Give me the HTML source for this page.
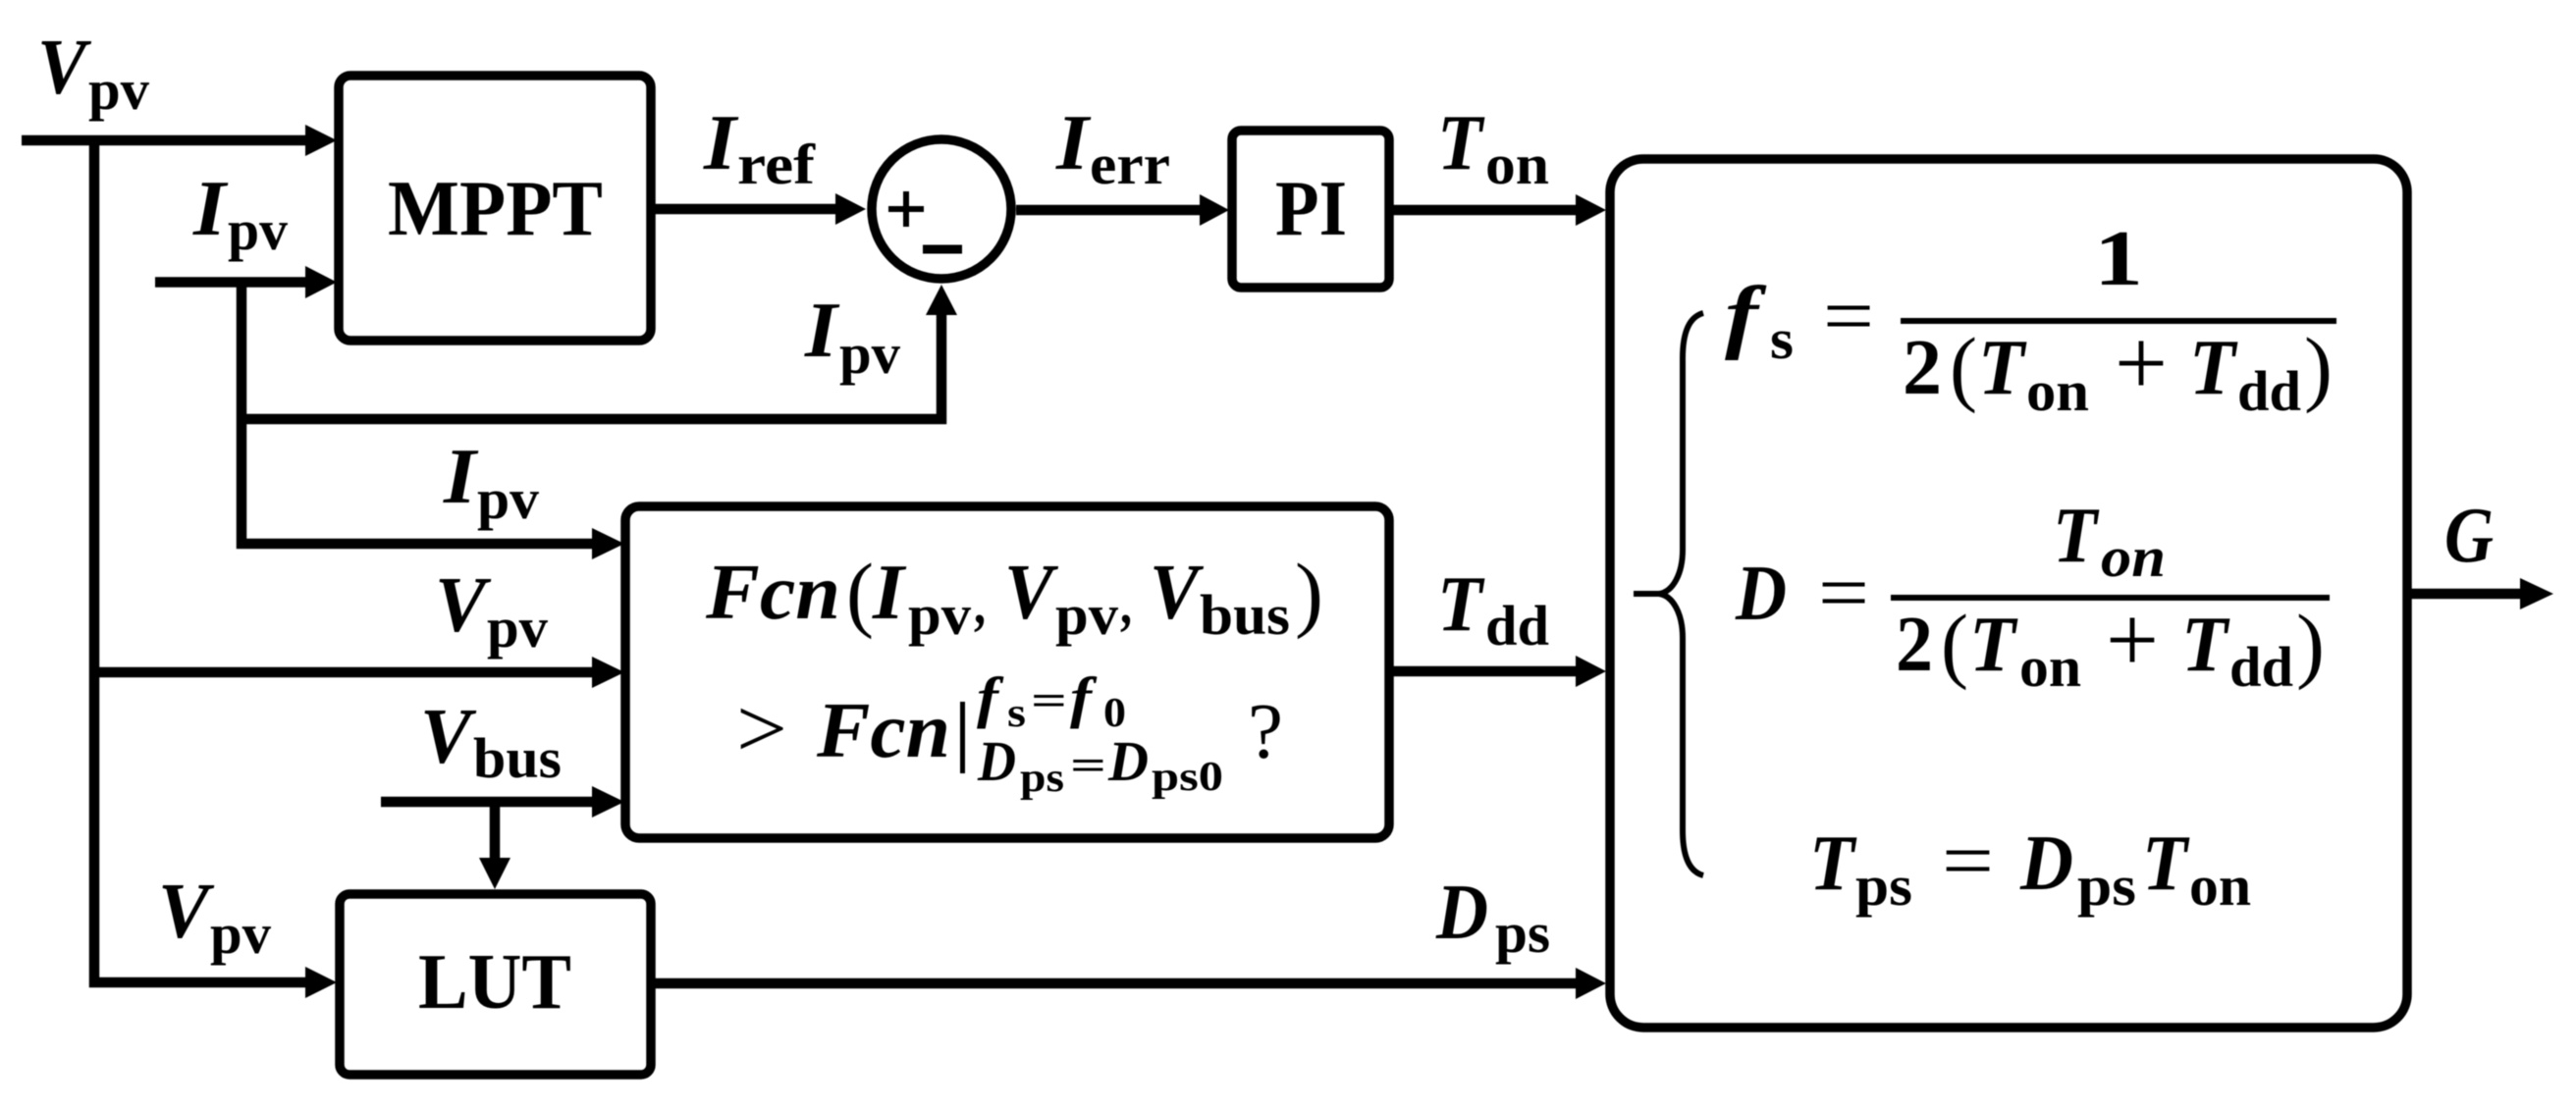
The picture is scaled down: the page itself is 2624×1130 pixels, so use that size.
<!DOCTYPE html>
<html>
<head>
<meta charset="utf-8">
<style>
html,body{margin:0;padding:0;background:#fff;width:2624px;height:1130px;overflow:hidden}
svg{display:block;filter:blur(0.6px)}
text{font-family:"Liberation Serif",serif;fill:#000;stroke:none}
.m{font-size:80px;font-weight:bold;font-style:italic}
.s{font-size:58px;font-weight:bold}
.b{font-size:80px;font-weight:bold}
.o{font-size:86px;font-weight:normal}
.e{font-size:84px;font-weight:normal}
.p{font-size:96px;font-weight:normal}
.x{font-size:58px;font-weight:bold;font-style:italic}
.y{font-size:42px;font-weight:bold}
</style>
</head>
<body>
<svg width="2624" height="1130" viewBox="0 0 2624 1130" xmlns="http://www.w3.org/2000/svg">
<rect width="2624" height="1130" fill="#fff"/>
<!-- boxes -->
<g fill="none" stroke="#000" stroke-width="9.500">
<rect x="345" y="77" width="318" height="270" rx="12"/>
<rect x="637" y="516" width="778" height="338" rx="14"/>
<rect x="346" y="911" width="317" height="184" rx="10"/>
<rect x="1255" y="133" width="160" height="160" rx="9"/>
<rect x="1640" y="162" width="812" height="885" rx="34"/>
<circle cx="959" cy="213" r="71"/>
</g>
<!-- wires -->
<g fill="none" stroke="#000" stroke-width="10.500">
<path d="M22 143H315"/>
<path d="M96 143V1001H315"/>
<path d="M158 287.500H315"/>
<path d="M246 287.500V554H607"/>
<path d="M246 427H959V318"/>
<path d="M96 685H607"/>
<path d="M388 817H607"/>
<path d="M504 817V878"/>
<path d="M663 213H855"/>
<path d="M1035 214H1222"/>
<path d="M1416 214H1608"/>
<path d="M1416 684H1608"/>
<path d="M663 1002H1608"/>
<path d="M2452 605H2570"/>
</g>
<!-- arrowheads -->
<g fill="#000">
<path d="M311 127L343 143L311 159Z"/>
<path d="M311 271L343 287.500L311 304Z"/>
<path d="M311 985L343 1001L311 1017Z"/>
<path d="M603 538L636 554L603 570Z"/>
<path d="M603 669L636 685L603 701Z"/>
<path d="M603 801L636 817L603 833Z"/>
<path d="M488 874L504 906L520 874Z"/>
<path d="M943 321L959 290L975 321Z"/>
<path d="M851 197L882 213L851 229Z"/>
<path d="M1222 198L1252 214L1222 230Z"/>
<path d="M1605 198L1636 214L1605 230Z"/>
<path d="M1605 668L1636 684L1605 700Z"/>
<path d="M1605 986L1636 1002L1605 1018Z"/>
<path d="M2567 589L2601 605L2567 621Z"/>
</g>
<!-- sum junction signs -->
<g fill="none" stroke="#000">
<path d="M905 213H941M923 195V231" stroke-width="6"/>
<path d="M940 254H980" stroke-width="9"/>
</g>
<!-- brace -->
<path d="M1735 319C1720 323 1714 340 1714 365V560C1714 585 1704 603 1690 605H1664M1690 605C1704 607 1714 625 1714 650V846C1714 871 1720 888 1735 892" fill="none" stroke="#000" stroke-width="6"/>
<!-- fraction bars -->
<rect x="1936" y="324" width="444" height="6"/>
<rect x="1926" y="606" width="447" height="6"/>
<rect x="978" y="715" width="5" height="73"/>

<!-- blocks -->
<text class="b" x="395" y="239" textLength="219" lengthAdjust="spacingAndGlyphs">MPPT</text>
<text class="b" x="426" y="1027" textLength="156" lengthAdjust="spacingAndGlyphs">LUT</text>
<text class="b" x="1299" y="239" textLength="73" lengthAdjust="spacingAndGlyphs">PI</text>

<!-- signal labels -->
<text class="m" x="38" y="95" textLength="50" lengthAdjust="spacingAndGlyphs">V</text>
<text class="s" x="90" y="111" textLength="62" lengthAdjust="spacingAndGlyphs">pv</text>
<text class="m" x="197" y="239" textLength="33" lengthAdjust="spacingAndGlyphs">I</text>
<text class="s" x="232" y="254" textLength="61" lengthAdjust="spacingAndGlyphs">pv</text>
<text class="m" x="717" y="172" textLength="33" lengthAdjust="spacingAndGlyphs">I</text>
<text class="s" x="751" y="187" textLength="79" lengthAdjust="spacingAndGlyphs">ref</text>
<text class="m" x="820" y="363" textLength="33" lengthAdjust="spacingAndGlyphs">I</text>
<text class="s" x="855" y="380" textLength="62" lengthAdjust="spacingAndGlyphs">pv</text>
<text class="m" x="452" y="512" textLength="33" lengthAdjust="spacingAndGlyphs">I</text>
<text class="s" x="486" y="528" textLength="63" lengthAdjust="spacingAndGlyphs">pv</text>
<text class="m" x="443" y="643" textLength="52" lengthAdjust="spacingAndGlyphs">V</text>
<text class="s" x="496" y="659" textLength="62" lengthAdjust="spacingAndGlyphs">pv</text>
<text class="m" x="428" y="777" textLength="52" lengthAdjust="spacingAndGlyphs">V</text>
<text class="s" x="482" y="792" textLength="90" lengthAdjust="spacingAndGlyphs">bus</text>
<text class="m" x="161" y="955" textLength="52" lengthAdjust="spacingAndGlyphs">V</text>
<text class="s" x="214" y="971" textLength="62" lengthAdjust="spacingAndGlyphs">pv</text>
<text class="m" x="1076" y="172" textLength="33" lengthAdjust="spacingAndGlyphs">I</text>
<text class="s" x="1110" y="187" textLength="82" lengthAdjust="spacingAndGlyphs">err</text>
<text class="m" x="1464" y="172" textLength="46" lengthAdjust="spacingAndGlyphs">T</text>
<text class="s" x="1513" y="187" textLength="65" lengthAdjust="spacingAndGlyphs">on</text>
<text class="m" x="1464" y="642" textLength="46" lengthAdjust="spacingAndGlyphs">T</text>
<text class="s" x="1513" y="657" textLength="65" lengthAdjust="spacingAndGlyphs">dd</text>
<text class="m" x="1463" y="956" textLength="53" lengthAdjust="spacingAndGlyphs">D</text>
<text class="s" x="1523" y="970" textLength="56" lengthAdjust="spacingAndGlyphs">ps</text>
<text class="m" x="2490" y="572" textLength="50" lengthAdjust="spacingAndGlyphs">G</text>

<!-- Fcn block text -->
<text class="m" x="719" y="630" textLength="137" lengthAdjust="spacingAndGlyphs">Fcn</text>
<text class="o" x="862" y="633" textLength="28" lengthAdjust="spacingAndGlyphs">(</text>
<text class="m" x="889" y="630" textLength="32" lengthAdjust="spacingAndGlyphs">I</text>
<text class="s" x="925" y="646" textLength="64" lengthAdjust="spacingAndGlyphs">pv</text>
<text class="s" x="992" y="635" font-size="50" textLength="12" lengthAdjust="spacingAndGlyphs">,</text>
<text class="m" x="1023" y="630" textLength="50" lengthAdjust="spacingAndGlyphs">V</text>
<text class="s" x="1075" y="646" textLength="64" lengthAdjust="spacingAndGlyphs">pv</text>
<text class="s" x="1141" y="635" font-size="50" textLength="12" lengthAdjust="spacingAndGlyphs">,</text>
<text class="m" x="1171" y="630" textLength="50" lengthAdjust="spacingAndGlyphs">V</text>
<text class="s" x="1222" y="646" textLength="92" lengthAdjust="spacingAndGlyphs">bus</text>
<text class="o" x="1319" y="633" textLength="29" lengthAdjust="spacingAndGlyphs">)</text>

<text class="o" x="750" y="771" textLength="52" lengthAdjust="spacingAndGlyphs">&gt;</text>
<text class="m" x="832" y="771" textLength="136" lengthAdjust="spacingAndGlyphs">Fcn</text>
<text class="x" x="995" y="730" textLength="22" lengthAdjust="spacingAndGlyphs">f</text>
<text class="y" x="1026" y="740" textLength="19" lengthAdjust="spacingAndGlyphs">s</text>
<text class="y" x="1050" y="728" textLength="37" lengthAdjust="spacingAndGlyphs" font-weight="normal">=</text>
<text class="x" x="1090" y="730" textLength="22" lengthAdjust="spacingAndGlyphs">f</text>
<text class="y" x="1124" y="740" textLength="23" lengthAdjust="spacingAndGlyphs">0</text>
<text class="x" x="996" y="795" textLength="39" lengthAdjust="spacingAndGlyphs">D</text>
<text class="y" x="1039" y="806" textLength="45" lengthAdjust="spacingAndGlyphs">ps</text>
<text class="y" x="1090" y="794" textLength="37" lengthAdjust="spacingAndGlyphs" font-weight="normal">=</text>
<text class="x" x="1129" y="795" textLength="41" lengthAdjust="spacingAndGlyphs">D</text>
<text class="y" x="1173" y="805" textLength="73" lengthAdjust="spacingAndGlyphs">ps0</text>
<text x="1271" y="772" font-size="80" textLength="36" lengthAdjust="spacingAndGlyphs">?</text>

<!-- equations -->
<text class="m" x="1757" y="349" textLength="34" lengthAdjust="spacingAndGlyphs" style="font-size:84px">f</text>
<text class="s" x="1803" y="365" textLength="24" lengthAdjust="spacingAndGlyphs">s</text>
<text class="e" x="1857" y="350" textLength="52" lengthAdjust="spacingAndGlyphs">=</text>
<text class="b" x="2133" y="290" textLength="50" lengthAdjust="spacingAndGlyphs">1</text>

<text class="b" x="1938" y="401" textLength="40" lengthAdjust="spacingAndGlyphs">2</text>
<text class="o" x="1986" y="403" textLength="28" lengthAdjust="spacingAndGlyphs">(</text>
<text class="m" x="2015" y="401" textLength="47" lengthAdjust="spacingAndGlyphs">T</text>
<text class="s" x="2064" y="418" textLength="64" lengthAdjust="spacingAndGlyphs">on</text>
<text class="p" x="2154" y="402" textLength="54" lengthAdjust="spacingAndGlyphs">+</text>
<text class="m" x="2230" y="401" textLength="47" lengthAdjust="spacingAndGlyphs">T</text>
<text class="s" x="2279" y="418" textLength="65" lengthAdjust="spacingAndGlyphs">dd</text>
<text class="o" x="2347" y="403" textLength="29" lengthAdjust="spacingAndGlyphs">)</text>

<text class="m" x="1768" y="631" textLength="52" lengthAdjust="spacingAndGlyphs">D</text>
<text class="e" x="1852" y="632" textLength="52" lengthAdjust="spacingAndGlyphs">=</text>
<text class="m" x="2091" y="572" textLength="45" lengthAdjust="spacingAndGlyphs">T</text>
<text class="s" x="2140" y="587" textLength="66" lengthAdjust="spacingAndGlyphs" font-style="italic">on</text>

<text class="b" x="1931" y="683" textLength="38" lengthAdjust="spacingAndGlyphs">2</text>
<text class="o" x="1977" y="685" textLength="28" lengthAdjust="spacingAndGlyphs">(</text>
<text class="m" x="2006" y="683" textLength="47" lengthAdjust="spacingAndGlyphs">T</text>
<text class="s" x="2057" y="699" textLength="63" lengthAdjust="spacingAndGlyphs">on</text>
<text class="p" x="2145" y="684" textLength="54" lengthAdjust="spacingAndGlyphs">+</text>
<text class="m" x="2222" y="683" textLength="47" lengthAdjust="spacingAndGlyphs">T</text>
<text class="s" x="2271" y="699" textLength="65" lengthAdjust="spacingAndGlyphs">dd</text>
<text class="o" x="2339" y="685" textLength="29" lengthAdjust="spacingAndGlyphs">)</text>

<text class="m" x="1843" y="906" textLength="46" lengthAdjust="spacingAndGlyphs">T</text>
<text class="s" x="1890" y="922" textLength="58" lengthAdjust="spacingAndGlyphs">ps</text>
<text class="e" x="1978" y="905" textLength="53" lengthAdjust="spacingAndGlyphs">=</text>
<text class="m" x="2058" y="906" textLength="54" lengthAdjust="spacingAndGlyphs">D</text>
<text class="s" x="2116" y="922" textLength="60" lengthAdjust="spacingAndGlyphs">ps</text>
<text class="m" x="2182" y="906" textLength="46" lengthAdjust="spacingAndGlyphs">T</text>
<text class="s" x="2230" y="922" textLength="63" lengthAdjust="spacingAndGlyphs">on</text>
</svg>
</body>
</html>
